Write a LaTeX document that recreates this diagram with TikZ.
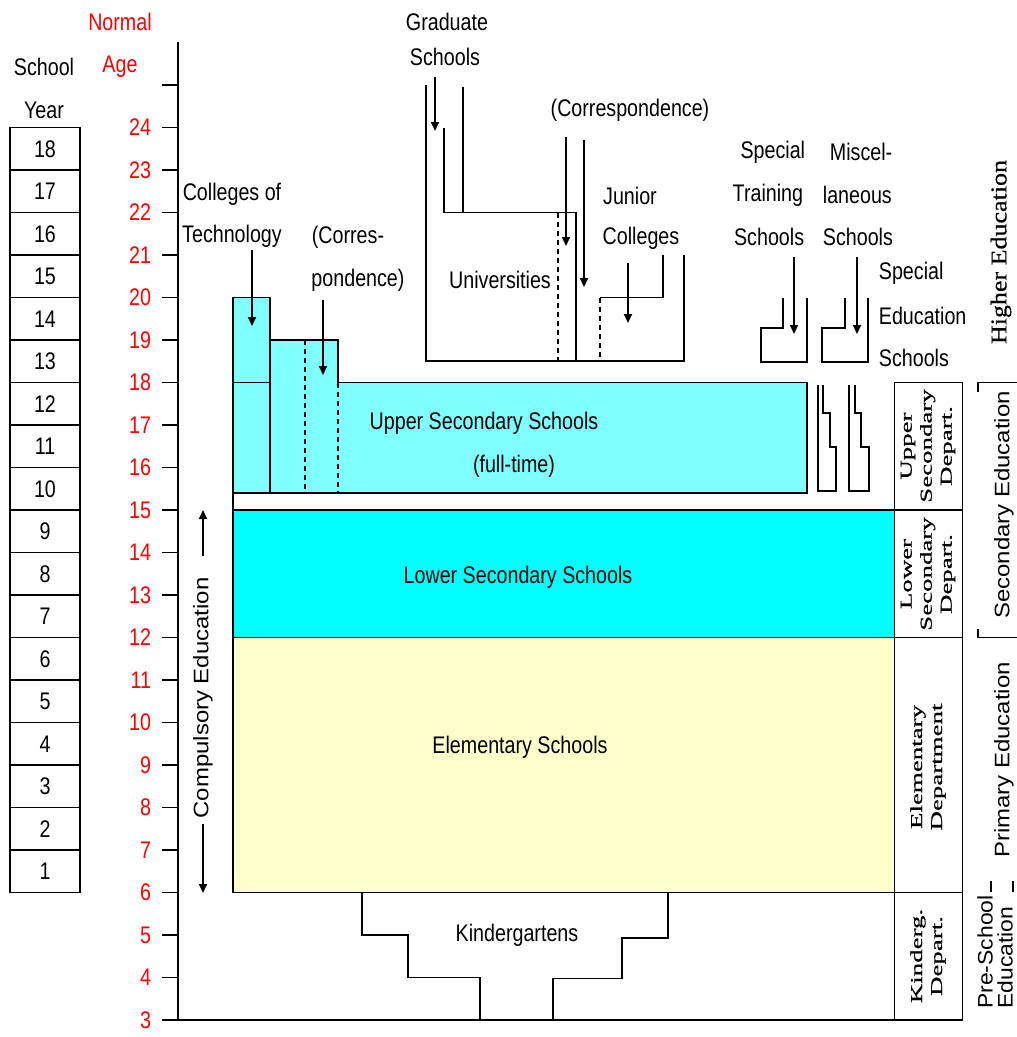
\documentclass[tikz,border=0pt]{standalone}
\usepackage{fontspec}
\usepackage{graphicx}
\setmainfont{Liberation Sans}[FakeStretch=0.82]
\newfontfamily\rsans{Liberation Sans}[FakeStretch=1.14]
\newfontfamily\psans{Liberation Sans}[FakeStretch=1.09]
\newfontfamily\rserif{Liberation Serif}[FakeStretch=1.62,FakeBold=0.8]
\newfontfamily\hserif{Liberation Serif}[FakeStretch=1.15,FakeBold=0.6]
\usetikzlibrary{arrows.meta}
\definecolor{lcyan}{HTML}{80FFFF}
\definecolor{fcyan}{HTML}{00FFFF}
\definecolor{lyellow}{HTML}{FFFFCC}
\tikzset{
  lbl/.style={font=\fontsize{24}{42.5}\selectfont, inner sep=0pt, align=center},
  redlbl/.style={lbl, text=red},
  deptlbl/.style={rotate=90, font=\rserif\fontsize{16.6}{20}\selectfont, inner sep=0pt, align=center},
  edulbl/.style={rotate=90, font=\rsans\fontsize{21}{20}\selectfont, inner sep=0pt, align=left},
  higherlbl/.style={rotate=90, font=\hserif\fontsize{22.6}{22}\selectfont, inner sep=0pt},
  arr/.style={-{Triangle[length=9pt,width=8pt]}},
  dsh/.style={dash pattern=on 5pt off 4pt},
  yearbox/.style={draw, minimum width=70pt, minimum height=42.5pt, inner sep=0pt, font=\fontsize{24}{24}\selectfont},
  deptbox/.style={draw, minimum width=68pt, inner sep=0pt}
}
\begin{document}
\begin{tikzpicture}[x=1pt,y=-1pt,line width=1.8pt,line join=miter]
\useasboundingbox (0,0) rectangle (1017,1037);
\fill[white] (0,0) rectangle (1017,1037);

% ---------- headings left ----------
\node[lbl] (school) at (44,67) {School};
\node[lbl] (year) at (44,110) {Year};
\node[redlbl] (normal) at (120,22) {Normal};
\node[redlbl] (age) at (120,67) {Age};

% ---------- school year boxes ----------
\foreach \n in {1,...,18}{
  \node[yearbox] (yr\n) at (45,{892.5-(\n-0.5)*42.5}) {\n};
}

% ---------- age axis ----------
\draw (178,42) -- (178,1020);
\foreach \a in {3,...,25}{
  \draw (162,{1020-(\a-3)*42.5}) -- (178,{1020-(\a-3)*42.5});
}
\foreach \a in {3,...,24}{
  \node[redlbl, anchor=east] (age\a) at (152,{1020-(\a-3)*42.5}) {\a};
}
\draw (162,1020) -- (963,1020);

% ---------- elementary / lower secondary ----------
\fill[lyellow] (233,637.5) rectangle (894.5,892.5);
\draw (233,637.5) rectangle (894.5,892.5);
\fill[fcyan] (233,510) rectangle (894.5,637.5);
\draw (233,510) rectangle (894.5,637.5);
\node[lbl] (elem) at (520,747) {Elementary Schools};
\node[lbl] (lower) at (518,577) {Lower Secondary Schools};

% ---------- upper secondary ----------
\fill[lcyan] (233,493) -- (233,297.5) -- (270,297.5) -- (270,340) -- (338,340)
  -- (338,382.5) -- (807,382.5) -- (807,493) -- cycle;
\draw (233,493) -- (233,297.5) -- (270,297.5) -- (270,340) -- (338,340)
  -- (338,382.5) -- (807,382.5) -- (807,493) -- cycle;
\draw (270,297.5) -- (270,493);
\draw (233,382.5) -- (270,382.5);
\draw[dsh] (305,340) -- (305,493);
\draw[dsh] (338,382.5) -- (338,493);
\draw (233,493) -- (233,510);
\node[lbl] (upper) at (484,423) {Upper Secondary Schools};
\node[lbl] (fulltime) at (514,466) {(full-time)};

\node[lbl] (coltech) at (232,215.5) {Colleges of\\Technology};
\coordinate (ct1) at (252,250);
\coordinate (ct2) at (252,326);
\draw[arr] (ct1) -- (ct2);
\node[lbl] (corres1) at (348,237) {(Corres-};
\node[lbl] (corres2) at (358,280) {pondence)};
\coordinate (cc1) at (323,300);
\coordinate (cc2) at (323,375);
\draw[arr] (cc1) -- (cc2);

% ---------- universities ----------
\draw (426,85) -- (426,361) -- (684,361) -- (684,255);
\draw (444,127.5) -- (444,212.5) -- (576,212.5) -- (576,361);
\draw (463,87) -- (463,212.5);
\draw[dsh] (558,212.5) -- (558,361);
\draw (663,255) -- (663,297.5) -- (600,297.5);
\draw[dsh] (600,297.5) -- (600,361);
\node[lbl] (grad1) at (447,22) {Graduate};
\node[lbl] (grad2) at (445,57) {Schools};
\coordinate (g1) at (435,77);
\coordinate (g2) at (435,131);
\draw[arr] (g1) -- (g2);
\node[lbl] (univ) at (500,280) {Universities};
\node[lbl] (ucorr) at (630,110) {(Correspondence)};
\coordinate (uc1) at (566,137);
\coordinate (uc2) at (566,246);
\draw[arr] (uc1) -- (uc2);
\coordinate (uc3) at (584,140);
\coordinate (uc4) at (584,287);
\draw[arr] (uc3) -- (uc4);
\node[lbl] (junior) at (630,196) {Junior};
\node[lbl] (jcol) at (641,238) {Colleges};
\coordinate (j1) at (628,263);
\coordinate (j2) at (628,323);
\draw[arr] (j1) -- (j2);

% ---------- special training / miscellaneous ----------
\draw (807,297.5) -- (807,362) -- (761,362) -- (761,328) -- (783,328) -- (783,297.5);
\draw (868,297.5) -- (868,362) -- (822,362) -- (822,328) -- (845,328) -- (845,297.5);
\node[lbl, anchor=east] (sp1) at (806,152) {Special};
\node[lbl, anchor=east] (sp2) at (804,195) {Training};
\node[lbl, anchor=east] (sp3) at (805,237) {Schools};
\coordinate (s1) at (794,257);
\coordinate (s2) at (794,334);
\draw[arr] (s1) -- (s2);
\node[lbl, anchor=west] (mi1) at (829,152) {Miscel-};
\node[lbl, anchor=west] (mi2) at (822,195) {laneous};
\node[lbl, anchor=west] (mi3) at (822,237) {Schools};
\coordinate (m1) at (857,257);
\coordinate (m2) at (857,334);
\draw[arr] (m1) -- (m2);
\node[lbl, anchor=west] (se1) at (878,273) {Special};
\node[lbl, anchor=west] (se2) at (878,316) {Education};
\node[lbl, anchor=west] (se3) at (878,358) {Schools};

% ---------- special education shapes ----------
\draw (818,385) -- (818,491) -- (836,491) -- (836,447) -- (830,447) -- (830,413) -- (823,413) -- (823,385);
\draw (849,385) -- (849,491) -- (869,491) -- (869,447) -- (861,447) -- (861,413) -- (855,413) -- (855,385);

% ---------- kindergartens ----------
\draw (362,892.5) -- (362,935) -- (408,935) -- (408,977.5) -- (480,977.5) -- (480,1020);
\draw (668,892.5) -- (668,938) -- (622,938) -- (622,978.5) -- (553,978.5) -- (553,1020);
\node[lbl] (kinder) at (517,935) {Kindergartens};

% ---------- compulsory education ----------
\node[rotate=90, font=\rsans\fontsize{21}{21}\selectfont, inner sep=0pt] (comp) at (203,698) {Compulsory Education};
\coordinate (ca1) at (203,556);
\coordinate (ca2) at (203,510);
\draw[arr] (ca1) -- (ca2);
\coordinate (ca3) at (203,824);
\coordinate (ca4) at (203,893);
\draw[arr] (ca3) -- (ca4);

% ---------- department boxes ----------
\draw (894.5,382.5) rectangle (962.5,510);
\draw (894.5,510) rectangle (962.5,637.5);
\draw (894.5,637.5) rectangle (962.5,892.5);
\draw (894.5,892.5) rectangle (962.5,1020);
\node[deptlbl] (dup) at (928,446) {Upper\\Secondary\\Depart.};
\node[deptlbl] (dlo) at (928,574) {Lower\\Secondary\\Depart.};
\node[deptlbl] (del) at (928,767) {Elementary\\Department};
\node[deptlbl] (dki) at (928,956) {Kinderg.\\Depart.};

% ---------- education stages ----------
\draw (978,392) -- (978,382.5) -- (1017,382.5);
\draw (978,629) -- (978,637.5) -- (1017,637.5);
\draw (991,881) -- (991,892);
\draw (1013,881) -- (1013,892);
\node[higherlbl] (higher) at (1001,252) {Higher Education};
\node[edulbl] (secedu) at (1004,505) {Secondary Education};
\node[edulbl] (priedu) at (1004,760) {Primary Education};
\node[rotate=90, font=\psans\fontsize{21}{20}\selectfont, inner sep=0pt, align=left] (preedu) at (995,952) {Pre-School\\Education};
\end{tikzpicture}
\end{document}
